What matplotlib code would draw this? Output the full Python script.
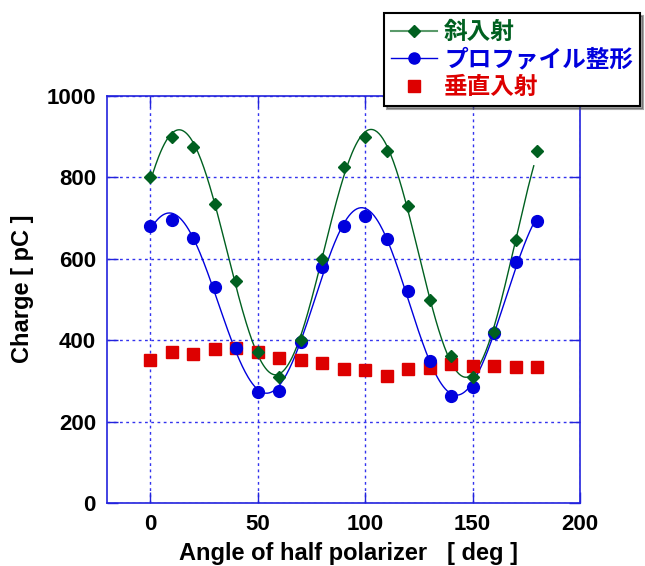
import numpy as np
import matplotlib
matplotlib.use("Agg")
import matplotlib.pyplot as plt
from matplotlib.lines import Line2D

plt.rcParams['font.family'] = ['Liberation Sans', 'Noto Sans CJK JP', 'DejaVu Sans']

angle = [0, 10, 20, 30, 40, 50, 60, 70, 80, 90, 100, 110, 120, 130, 140, 150, 160, 170, 180]
oblique = [800, 900, 875, 735, 545, 370, 310, 400, 600, 825, 900, 865, 730, 500, 360, 310, 420, 645, 865]
profile = [680, 695, 650, 530, 380, 272, 275, 395, 580, 680, 705, 649, 521, 349, 263, 285, 418, 592, 693]
normal = [351, 371, 366, 378, 381, 371, 356, 351, 344, 330, 327, 311, 329, 332, 342, 336, 337, 333, 334]

labels = ['斜入射', 'プロファイル整形', '垂直入射']
green = '#006020'
blue = '#0000dd'
red = '#dd0000'


def smooth_fit(x, y, n=3):
    x = np.asarray(x, float)
    y = np.asarray(y, float)
    def basis(t):
        cols = [np.ones_like(t), t / 180.0]
        for k in range(1, n + 1):
            cols.append(np.cos(2 * np.pi * k * t / 180.0))
            cols.append(np.sin(2 * np.pi * k * t / 180.0))
        return np.column_stack(cols)
    coef, *_ = np.linalg.lstsq(basis(x), y, rcond=None)
    xs = np.linspace(x.min(), x.max() - 1.5, 400)
    return xs, basis(xs) @ coef


fig = plt.figure(figsize=(6.45, 5.66), dpi=100)
ax = fig.add_axes([107 / 645, 1 - 503 / 566, 473 / 645, 407 / 566])

xs, ys = smooth_fit(angle, oblique)
ax.plot(xs, ys, color=green, lw=1, zorder=3)
xs, ys = smooth_fit(angle, profile)
ax.plot(xs, ys, color=blue, lw=1, zorder=3)

ax.plot(angle, normal, 's', color=red, ms=9, mec=red, zorder=4)
ax.plot(angle, profile, 'o', color=blue, ms=8.5, mec=blue, zorder=5)
ax.plot(angle, oblique, 'D', color=green, ms=6.5, mec=green, zorder=6)

ax.set_xlim(-20, 200)
ax.set_ylim(0, 1000)
ax.set_xticks([0, 50, 100, 150, 200])
ax.set_yticks([0, 200, 400, 600, 800, 1000])
ax.grid(True, color='#3333ee', linestyle=(0, (2, 2.5)), lw=1)
for s in ax.spines.values():
    s.set_color('#2222dd')
    s.set_linewidth(1.2)
ax.tick_params(direction='in', length=8, width=1, color='#2222dd', top=True, right=True,
               labelsize=16, pad=8)
for t in ax.get_xticklabels() + ax.get_yticklabels():
    t.set_fontweight('bold')
ax.set_xlabel('Angle of half polarizer   [ deg ]', fontsize=17, fontweight='bold')
ax.set_ylabel('Charge [ pC ]', fontsize=17, fontweight='bold')
ax.xaxis.set_label_coords(0.5106, -0.095)
ax.yaxis.set_label_coords(-0.155, 0.526)

handles = [
    Line2D([], [], color='#5a9a6a', lw=1.5, marker='D', ms=6, mfc=green, mec=green),
    Line2D([], [], color=blue, lw=1, marker='o', ms=8, mfc=blue, mec=blue),
    Line2D([], [], color=red, lw=0, marker='s', ms=8, mfc=red, mec=red),
]
leg = fig.legend(handles, labels, loc='upper left', bbox_to_anchor=(384 / 645, 1 - 13 / 566),
                 frameon=True, fancybox=False, shadow=True, handlelength=1.95, handletextpad=0.3,
                 borderpad=0.3, labelspacing=0.15, borderaxespad=0,
                 prop={'family': ['Noto Sans CJK JP'], 'weight': 'bold', 'size': 17})
leg.get_frame().set_edgecolor('black')
leg.get_frame().set_linewidth(1.5)
for txt, c in zip(leg.get_texts(), [green, blue, red]):
    txt.set_color(c)

fig.savefig('out.png', dpi=100)
